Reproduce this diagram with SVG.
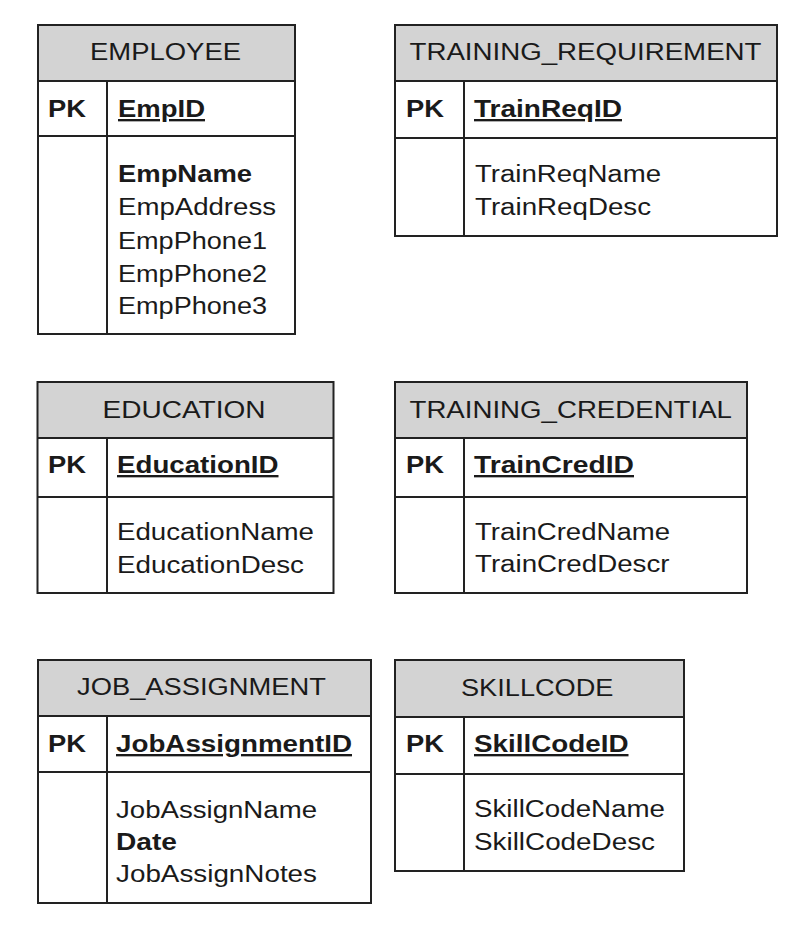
<svg xmlns="http://www.w3.org/2000/svg" width="812" height="934" viewBox="0 0 812 934">
<style>
.bg{fill:#ffffff}
.hdr{fill:#d3d3d3;stroke:none}
.box{fill:none;stroke:#222222;stroke-width:2}
.ln{stroke:#222222;stroke-width:2}
text{font-family:"Liberation Sans",Arial,sans-serif;font-size:23.5px;fill:#1a1a1a}
.b{font-weight:bold}
.u{font-weight:bold;text-decoration:underline}
</style>
<rect class="bg" x="0" y="0" width="812" height="934"/>

<g id="employee">
<rect class="hdr" x="38" y="25" width="257" height="56"/>
<rect class="box" x="38" y="25" width="257" height="309"/>
<line class="ln" x1="38" y1="81" x2="295" y2="81"/>
<line class="ln" x1="38" y1="136" x2="295" y2="136"/>
<line class="ln" x1="107" y1="81" x2="107" y2="334"/>
<text x="90" y="60" textLength="151" lengthAdjust="spacingAndGlyphs">EMPLOYEE</text>
<text class="b" x="48" y="117" textLength="38" lengthAdjust="spacingAndGlyphs">PK</text>
<text class="u" x="118" y="117" textLength="87" lengthAdjust="spacingAndGlyphs">EmpID</text>
<text class="b" x="118" y="182" textLength="134" lengthAdjust="spacingAndGlyphs">EmpName</text>
<text x="118" y="215" textLength="158" lengthAdjust="spacingAndGlyphs">EmpAddress</text>
<text x="118" y="249" textLength="149" lengthAdjust="spacingAndGlyphs">EmpPhone1</text>
<text x="118" y="281.5" textLength="149" lengthAdjust="spacingAndGlyphs">EmpPhone2</text>
<text x="118" y="314" textLength="149" lengthAdjust="spacingAndGlyphs">EmpPhone3</text>
</g>

<g id="training_requirement">
<rect class="hdr" x="395" y="25" width="382" height="56"/>
<rect class="box" x="395" y="25" width="382" height="211"/>
<line class="ln" x1="395" y1="81" x2="777" y2="81"/>
<line class="ln" x1="395" y1="138" x2="777" y2="138"/>
<line class="ln" x1="464" y1="81" x2="464" y2="236"/>
<text x="409.5" y="60" textLength="352" lengthAdjust="spacingAndGlyphs">TRAINING_REQUIREMENT</text>
<text class="b" x="406" y="117" textLength="38" lengthAdjust="spacingAndGlyphs">PK</text>
<text class="u" x="474" y="117" textLength="148" lengthAdjust="spacingAndGlyphs">TrainReqID</text>
<text x="475" y="182" textLength="186" lengthAdjust="spacingAndGlyphs">TrainReqName</text>
<text x="475" y="215" textLength="176" lengthAdjust="spacingAndGlyphs">TrainReqDesc</text>
</g>

<g id="education">
<rect class="hdr" x="37.5" y="382" width="296" height="56"/>
<rect class="box" x="37.5" y="382" width="296" height="211"/>
<line class="ln" x1="37.5" y1="438" x2="333.5" y2="438"/>
<line class="ln" x1="37.5" y1="497" x2="333.5" y2="497"/>
<line class="ln" x1="107" y1="438" x2="107" y2="593"/>
<text x="102.5" y="418" textLength="163" lengthAdjust="spacingAndGlyphs">EDUCATION</text>
<text class="b" x="48" y="473" textLength="38" lengthAdjust="spacingAndGlyphs">PK</text>
<text class="u" x="117" y="473" textLength="161.5" lengthAdjust="spacingAndGlyphs">EducationID</text>
<text x="117" y="540" textLength="197" lengthAdjust="spacingAndGlyphs">EducationName</text>
<text x="117" y="573" textLength="187" lengthAdjust="spacingAndGlyphs">EducationDesc</text>
</g>

<g id="training_credential">
<rect class="hdr" x="395" y="382" width="352" height="56"/>
<rect class="box" x="395" y="382" width="352" height="211"/>
<line class="ln" x1="395" y1="438" x2="747" y2="438"/>
<line class="ln" x1="395" y1="497" x2="747" y2="497"/>
<line class="ln" x1="464" y1="438" x2="464" y2="593"/>
<text x="409.5" y="418" textLength="322.5" lengthAdjust="spacingAndGlyphs">TRAINING_CREDENTIAL</text>
<text class="b" x="406" y="473" textLength="38" lengthAdjust="spacingAndGlyphs">PK</text>
<text class="u" x="474" y="473" textLength="160" lengthAdjust="spacingAndGlyphs">TrainCredID</text>
<text x="475" y="540" textLength="195" lengthAdjust="spacingAndGlyphs">TrainCredName</text>
<text x="475" y="572" textLength="194.5" lengthAdjust="spacingAndGlyphs">TrainCredDescr</text>
</g>

<g id="job_assignment">
<rect class="hdr" x="38" y="660" width="333" height="56"/>
<rect class="box" x="38" y="660" width="333" height="243"/>
<line class="ln" x1="38" y1="716" x2="371" y2="716"/>
<line class="ln" x1="38" y1="772" x2="371" y2="772"/>
<line class="ln" x1="107" y1="716" x2="107" y2="903"/>
<text x="77" y="695" textLength="249" lengthAdjust="spacingAndGlyphs">JOB_ASSIGNMENT</text>
<text class="b" x="48" y="752" textLength="38" lengthAdjust="spacingAndGlyphs">PK</text>
<text class="u" x="116" y="752" textLength="236" lengthAdjust="spacingAndGlyphs">JobAssignmentID</text>
<text x="116" y="818" textLength="201" lengthAdjust="spacingAndGlyphs">JobAssignName</text>
<text class="b" x="116" y="850" textLength="61" lengthAdjust="spacingAndGlyphs">Date</text>
<text x="116" y="882" textLength="201" lengthAdjust="spacingAndGlyphs">JobAssignNotes</text>
</g>

<g id="skillcode">
<rect class="hdr" x="395" y="660" width="289" height="57"/>
<rect class="box" x="395" y="660" width="289" height="211"/>
<line class="ln" x1="395" y1="717" x2="684" y2="717"/>
<line class="ln" x1="395" y1="774" x2="684" y2="774"/>
<line class="ln" x1="464" y1="717" x2="464" y2="871"/>
<text x="461" y="696" textLength="152.5" lengthAdjust="spacingAndGlyphs">SKILLCODE</text>
<text class="b" x="406" y="752" textLength="38" lengthAdjust="spacingAndGlyphs">PK</text>
<text class="u" x="474" y="752" textLength="154.5" lengthAdjust="spacingAndGlyphs">SkillCodeID</text>
<text x="474" y="817" textLength="191" lengthAdjust="spacingAndGlyphs">SkillCodeName</text>
<text x="474" y="850" textLength="181" lengthAdjust="spacingAndGlyphs">SkillCodeDesc</text>
</g>

<g id="connectors"></g>
</svg>
